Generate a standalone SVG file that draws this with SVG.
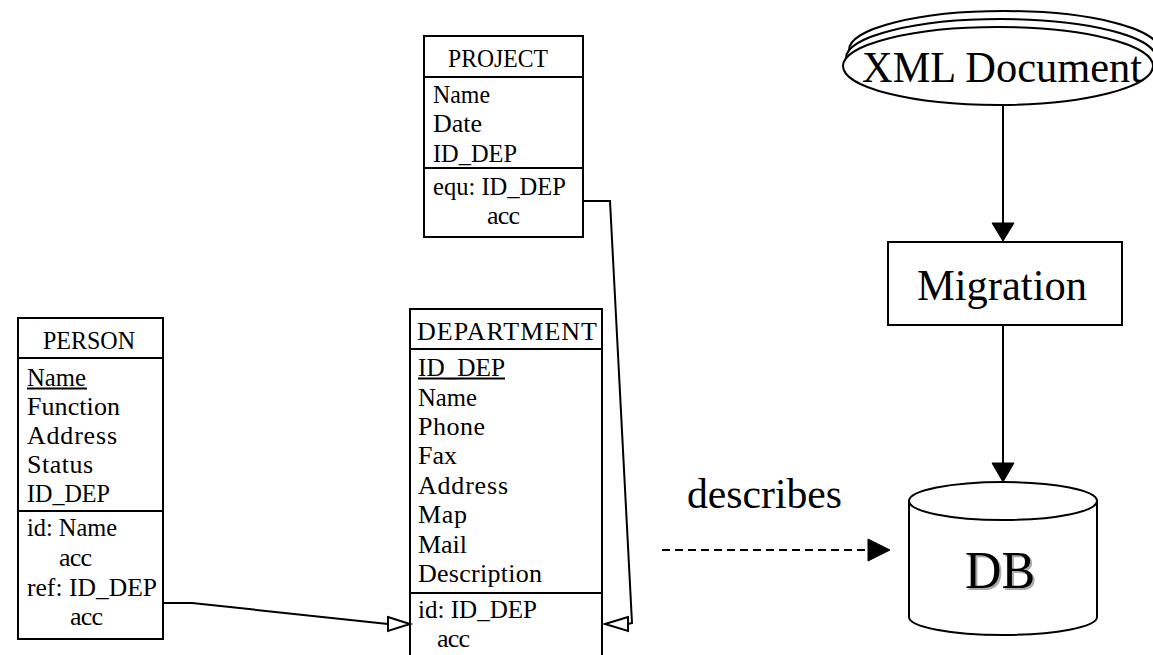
<svg xmlns="http://www.w3.org/2000/svg" width="1153" height="655" viewBox="0 0 1153 655">
<style>
.box{fill:#fff;stroke:#000;stroke-width:2}
.sep{stroke:#000;stroke-width:2}
.t{font-family:"Liberation Serif","Times New Roman",serif;font-size:26px;fill:#000}
.big{font-family:"Liberation Serif","Times New Roman",serif;font-size:44px;fill:#000}
.ln{fill:none;stroke:#000;stroke-width:2}
.open{fill:#fff;stroke:#000;stroke-width:2}
.solid{fill:#000;stroke:#000;stroke-width:1}
</style>
<rect width="1153" height="655" fill="#fff"/>

<g id="person">
<rect class="box" x="18" y="318" width="145" height="321"/>
<line class="sep" x1="18" y1="358" x2="163" y2="358"/>
<line class="sep" x1="18" y1="511" x2="163" y2="511"/>
<text class="t" x="43" y="349" textLength="92" lengthAdjust="spacingAndGlyphs">PERSON</text>
<text class="t" x="27" y="386" textLength="59" lengthAdjust="spacingAndGlyphs">Name</text>
<line x1="27" y1="388.5" x2="87" y2="388.5" stroke="#000" stroke-width="2"/>
<text class="t" x="27" y="415" textLength="93" lengthAdjust="spacing">Function</text>
<text class="t" x="27" y="444" textLength="90" lengthAdjust="spacing">Address</text>
<text class="t" x="27" y="473" textLength="66" lengthAdjust="spacing">Status</text>
<text class="t" x="27" y="502" textLength="83" lengthAdjust="spacingAndGlyphs">ID_DEP</text>
<text class="t" x="27" y="536" textLength="90" lengthAdjust="spacingAndGlyphs">id: Name</text>
<text class="t" x="59" y="566" textLength="33" lengthAdjust="spacing">acc</text>
<text class="t" x="27" y="596" textLength="130" lengthAdjust="spacingAndGlyphs">ref: ID_DEP</text>
<text class="t" x="70" y="625" textLength="33" lengthAdjust="spacing">acc</text>
</g>

<g id="department">
<rect class="box" x="410" y="309" width="192" height="360"/>
<line class="sep" x1="410" y1="349" x2="602" y2="349"/>
<line class="sep" x1="410" y1="593" x2="602" y2="593"/>
<text class="t" x="417" y="340" textLength="180" lengthAdjust="spacing">DEPARTMENT</text>
<text class="t" x="418" y="376" textLength="87" lengthAdjust="spacingAndGlyphs">ID_DEP</text>
<line x1="418" y1="378.5" x2="505" y2="378.5" stroke="#000" stroke-width="2"/>
<text class="t" x="418" y="405.5" textLength="59" lengthAdjust="spacingAndGlyphs">Name</text>
<text class="t" x="418" y="435" textLength="67" lengthAdjust="spacing">Phone</text>
<text class="t" x="418" y="464" textLength="39" lengthAdjust="spacing">Fax</text>
<text class="t" x="418" y="494" textLength="90" lengthAdjust="spacing">Address</text>
<text class="t" x="418" y="523" textLength="49" lengthAdjust="spacing">Map</text>
<text class="t" x="418" y="553" textLength="49" lengthAdjust="spacing">Mail</text>
<text class="t" x="418" y="582" textLength="124" lengthAdjust="spacing">Description</text>
<text class="t" x="418" y="618" textLength="119" lengthAdjust="spacingAndGlyphs">id: ID_DEP</text>
<text class="t" x="437" y="647" textLength="33" lengthAdjust="spacing">acc</text>
</g>

<g id="project">
<rect class="box" x="424" y="36" width="159" height="201"/>
<line class="sep" x1="424" y1="77" x2="583" y2="77"/>
<line class="sep" x1="424" y1="168" x2="583" y2="168"/>
<text class="t" x="448" y="67" textLength="100" lengthAdjust="spacingAndGlyphs">PROJECT</text>
<text class="t" x="433" y="103" textLength="57" lengthAdjust="spacingAndGlyphs">Name</text>
<text class="t" x="433" y="132" textLength="49" lengthAdjust="spacing">Date</text>
<text class="t" x="433" y="162" textLength="84" lengthAdjust="spacingAndGlyphs">ID_DEP</text>
<text class="t" x="433" y="195" textLength="133" lengthAdjust="spacingAndGlyphs">equ: ID_DEP</text>
<text class="t" x="487" y="224" textLength="33" lengthAdjust="spacing">acc</text>
</g>

<g id="xml-document">
<ellipse class="box" cx="1004" cy="50" rx="155" ry="39"/>
<ellipse class="box" cx="1001" cy="58" rx="155" ry="39"/>
<ellipse class="box" cx="998" cy="66" rx="155" ry="39"/>
<text class="big" x="862" y="82" textLength="280" lengthAdjust="spacingAndGlyphs">XML Document</text>
</g>

<g id="migration">
<rect class="box" x="888" y="242" width="234" height="83"/>
<text class="big" x="917" y="300" textLength="170" lengthAdjust="spacingAndGlyphs">Migration</text>
</g>

<g id="db">
<path class="box" d="M909,501 L909,617 A94,18 0 0 0 1097,617 L1097,501"/>
<ellipse class="box" cx="1003" cy="501" rx="94" ry="19"/>
<text x="967" y="590" textLength="70" lengthAdjust="spacingAndGlyphs" style="font-family:'Liberation Serif','Times New Roman',serif;font-size:53px;fill:#aaa">DB</text>
<text x="965" y="588" textLength="70" lengthAdjust="spacingAndGlyphs" style="font-family:'Liberation Serif','Times New Roman',serif;font-size:53px;fill:#000">DB</text>
</g>

<g id="describes-label">
<text x="687" y="508" textLength="155" lengthAdjust="spacingAndGlyphs" style="font-family:'Liberation Serif','Times New Roman',serif;font-size:42px;fill:#000">describes</text>
</g>

<g id="connectors">
<polyline class="ln" points="163,603 192,603 388,624"/>
<polygon class="open" points="388,617 410,624 388,631"/>
<polyline class="ln" points="583,201 610,201 632,623 628,624"/>
<polygon class="open" points="628,617 605,624 628,631"/>
<line class="ln" x1="1003" y1="105" x2="1003" y2="224"/>
<polygon class="solid" points="992,223 1003,241 1014,223"/>
<line class="ln" x1="1003" y1="325" x2="1003" y2="464"/>
<polygon class="solid" points="992,463 1003,482 1014,463"/>
<line class="ln" x1="662" y1="550" x2="868" y2="550" stroke-dasharray="8,5"/>
<polygon class="solid" points="868,539 890,550 868,561"/>
</g>
</svg>
